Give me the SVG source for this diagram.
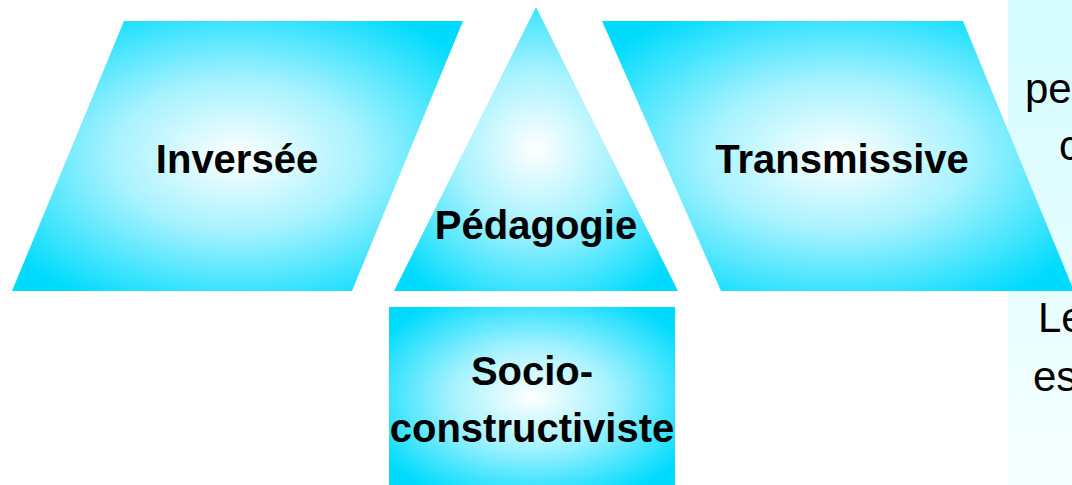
<svg xmlns="http://www.w3.org/2000/svg" width="1072" height="485" viewBox="0 0 1072 485">
  <defs>
    <radialGradient id="glow" cx="0.5" cy="0.5" r="0.62">
      <stop offset="0" stop-color="#ffffff"/>
      <stop offset="0.45" stop-color="#a6f2ff"/>
      <stop offset="1" stop-color="#00dbfd"/>
    </radialGradient>
    <linearGradient id="panel" x1="0" y1="0" x2="0" y2="1">
      <stop offset="0" stop-color="#d3fcff"/>
      <stop offset="1" stop-color="#f6ffff"/>
    </linearGradient>
    <style>
      .shape { fill: url(#glow); stroke: none; }
      .lbl { font-family: "Liberation Sans", Arial, sans-serif; font-weight: bold; font-size: 40px; fill: #000000; text-anchor: middle; }
      .side { font-family: "Liberation Sans", Arial, sans-serif; font-size: 42px; fill: #000000; }
    </style>
  </defs>
  <rect width="1072" height="485" fill="#ffffff"/>

  <g id="side-panel">
    <rect x="1008" y="0" width="70" height="485" fill="url(#panel)"/>
    <text class="side" x="1025" y="103">pe</text>
    <text class="side" x="1059" y="160">c</text>
    <text class="side" x="1038" y="332">Le</text>
    <text class="side" x="1033" y="391">es</text>
  </g>

  <g id="connectors"/>

  <g id="node-inversee">
    <polygon class="shape" points="124,21 463,21 352,291 12,291"/>
    <text class="lbl" x="237" y="173">Inversée</text>
  </g>

  <g id="node-pedagogie">
    <polygon class="shape" points="536,7 678,291 394,291"/>
    <text class="lbl" x="536" y="239">Pédagogie</text>
  </g>

  <g id="node-transmissive">
    <polygon class="shape" points="602,21 963,21 1074,291 721,291"/>
    <text class="lbl" x="842" y="173">Transmissive</text>
  </g>

  <g id="node-socio">
    <rect class="shape" x="389" y="307" width="286" height="180"/>
    <text class="lbl" x="532" y="385">Socio-</text>
    <text class="lbl" x="532" y="442">constructiviste</text>
  </g>
</svg>
